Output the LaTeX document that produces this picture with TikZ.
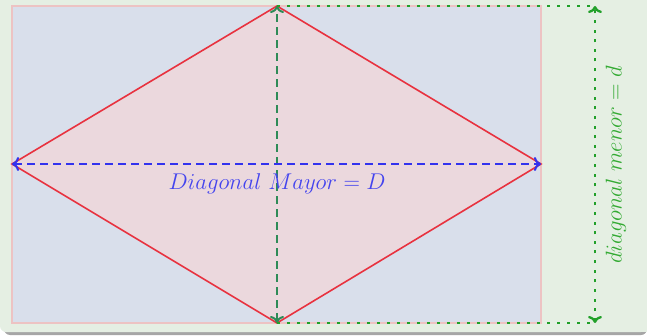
\documentclass[tikz,border=0pt]{standalone}
\usetikzlibrary{arrows.meta}
\definecolor{bgG}{HTML}{E5EFE3}
\definecolor{rectB}{HTML}{D9DFEB}
\definecolor{rectE}{HTML}{EDC3C3}
\definecolor{rhF}{HTML}{EBD8DD}
\definecolor{rhE}{HTML}{E8323F}
\definecolor{majB}{HTML}{3333EE}
\definecolor{minG}{HTML}{2E8B57}
\definecolor{dotG}{HTML}{22A02A}
\definecolor{txtB}{HTML}{4444EE}
\definecolor{txtG}{HTML}{33AA33}
\tikzset{
  bigtext/.style={font=\fontsize{20.74}{25}\selectfont, scale=1.1},
  majline/.style={majB, line width=2pt, dash pattern=on 8pt off 5pt},
  minline/.style={minG, line width=2pt, dash pattern=on 8pt off 5pt},
  dotline/.style={dotG, line width=2.3pt, dash pattern=on 3pt off 7pt},
  tip/.style={>={To[length=7pt,width=14pt]}},
}
\begin{document}
\begin{tikzpicture}[x=1pt,y=-1pt]
\useasboundingbox (0,0) rectangle (647,336);
% shadow
\fill[gray!70, rounded corners=6pt] (4,4) rectangle (647,335);
% background
\fill[bgG, rounded corners=6pt] (0,-6) rectangle (647,332);
\fill[bgG] (640,-6) rectangle (647,332);
% rectangle
\draw[fill=rectB, draw=rectE, line width=1.5pt] (12,6) rectangle (541,323);
% rhombus
\coordinate (L) at (12,164);
\coordinate (T) at (277,6);
\coordinate (R) at (541,164);
\coordinate (B) at (277,323);
\coordinate (TR) at (595,6);
\coordinate (BR) at (595,323);
\draw[fill=rhF, draw=rhE, line width=1.6pt] (L) -- (T) -- (R) -- (B) -- cycle;
% diagonals
\draw[minline, tip, <->] (B) -- (T);
\draw[majline, tip, <->] (L) -- (R);
\node[bigtext, text=txtB] (lab1) at (277,184) {$Diagonal\ Mayor = D$};
% dotted
\draw[dotline] (T) -- (TR);
\draw[dotline] (B) -- (BR);
\draw[dotline, tip, <->, dash pattern=on 3pt off 6.6pt] (BR) -- (TR);
\node[bigtext, text=txtG, rotate=90] (lab2) at (616,165) {$diagonal\ menor = d$};
\end{tikzpicture}
\end{document}
